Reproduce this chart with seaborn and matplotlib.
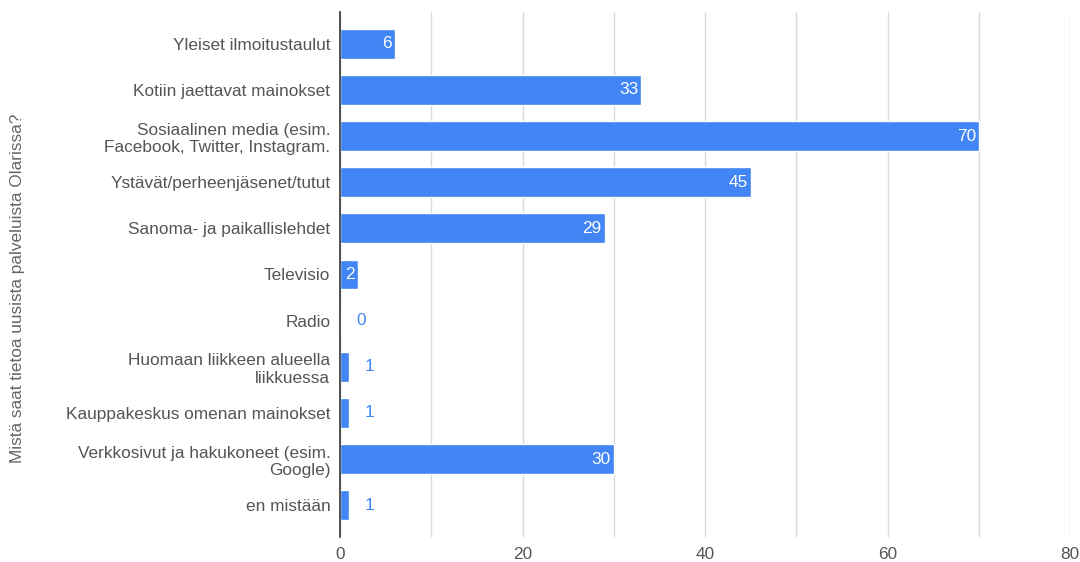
import matplotlib
matplotlib.use("Agg")
import matplotlib.pyplot as plt
import seaborn as sns
import pandas as pd

categories = [
    "Yleiset ilmoitustaulut",
    "Kotiin jaettavat mainokset",
    "Sosiaalinen media (esim.\nFacebook, Twitter, Instagram.",
    "Ystävät/perheenjäsenet/tutut",
    "Sanoma- ja paikallislehdet",
    "Televisio",
    "Radio",
    "Huomaan liikkeen alueella\nliikkuessa",
    "Kauppakeskus omenan mainokset",
    "Verkkosivut ja hakukoneet (esim.\nGoogle)",
    "en mistään",
]
values = [6, 33, 70, 45, 29, 2, 0, 1, 1, 30, 1]
x_ticks = [0, 20, 40, 60, 80]
y_title = "Mistä saat tietoa uusista palveluista Olarissa?"

BLUE = "#4285F4"
TEXT = "#555555"
FS = 12.4

sns.set_theme(style="white")
plt.rcParams["font.family"] = ["Liberation Sans", "DejaVu Sans"]

df = pd.DataFrame({"category": categories, "value": values})

fig = plt.figure(figsize=(10.8, 5.62), dpi=100)
ax = fig.add_axes([340 / 1080, 1 - 537 / 562, 730 / 1080, 525 / 562])

sns.barplot(data=df, x="value", y="category", orient="h", color=BLUE,
            saturation=1, width=0.65, ax=ax, zorder=3)

ax.set_xlim(0, 80)
ax.set_ylim(len(categories) - 1 + 0.69, -0.69)
ax.set_xticks(x_ticks)
ax.set_xticks(range(10, 80, 20), minor=True)
ax.grid(axis="x", which="both", color="#d9d9d9", linewidth=1, zorder=0)
ax.grid(axis="y", visible=False)
for s in ["top", "right", "bottom"]:
    ax.spines[s].set_visible(False)
ax.spines["left"].set_color("#333333")
ax.spines["left"].set_linewidth(1.2)
ax.spines["left"].set_zorder(4)

ax.tick_params(axis="both", which="both", length=0, labelsize=FS, labelcolor=TEXT)
ax.tick_params(axis="y", pad=7)
ax.tick_params(axis="x", pad=7)
for lbl in ax.get_yticklabels():
    lbl.set_linespacing(1.2)
ax.set_xlabel("")
ax.set_ylabel(y_title, fontsize=FS, color="#666666", labelpad=0)
ax.yaxis.set_label_coords(-(340 - 18) / 730, 0.474)
ax.yaxis.label.set_va("center")

px = 80 / 730  # data units per pixel
for i, v in enumerate(values):
    if v >= 2:
        ax.text(v - 3 * px, i, str(v), ha="right", va="center",
                color="white", fontsize=FS, zorder=5)
    else:
        ax.text(v + 16 * px, i, str(v), ha="left", va="center",
                color=BLUE, fontsize=FS, zorder=5)

fig.savefig("out.png", dpi=100, facecolor="white")
